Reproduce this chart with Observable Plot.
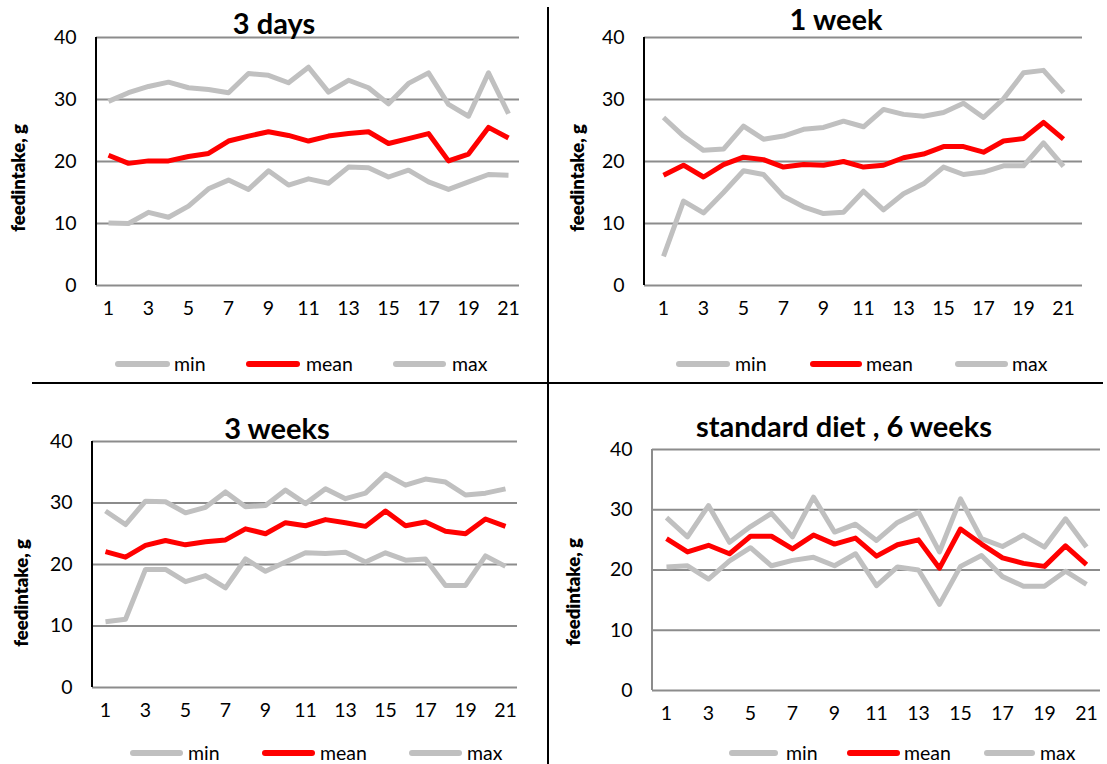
<!DOCTYPE html>
<html>
<head>
<meta charset="utf-8">
<script src="https://cdn.jsdelivr.net/npm/d3@7"></script>
<script src="https://cdn.jsdelivr.net/npm/@observablehq/plot@0.6"></script>
<style>
  html, body { margin: 0; padding: 0; background: #fff; }
  #root { position: relative; width: 1107px; height: 764px; overflow: hidden; font-family: Lato, "Open Sans", sans-serif; }
  .panel { position: absolute; }
  .title { position: absolute; font-weight: 700; font-size: 29px; color: #000; white-space: nowrap; transform: translate(-50%, -50%); }
  .ytitle { position: absolute; font-weight: 800; font-size: 18.5px; color: #000; white-space: nowrap; transform: translate(-50%, -50%) rotate(-90deg); }
  .leg-line { position: absolute; height: 6px; border-radius: 3px; transform: translateY(-50%); }
  .leg-text { position: absolute; font-size: 19.5px; color: #000; transform: translateY(-52%); }
  .divider { position: absolute; background: #000; }
</style>
</head>
<body>
<div id="root"></div>
<script>
// ---- data ----
const days = [1,2,3,4,5,6,7,8,9,10,11,12,13,14,15,16,17,18,19,20,21];
const xTicks = [1,3,5,7,9,11,13,15,17,19,21];
const yTicks = [0,10,20,30,40];
const seriesNames = ["min", "mean", "max"];
const titles = ["3 days", "1 week", "3 weeks", "standard diet , 6 weeks"];
const yLabel = "feedintake, g";

const d3Min  = [10.1,10.0,11.8,11.0,12.8,15.6,17.0,15.5,18.5,16.2,17.2,16.5,19.1,19.0,17.5,18.6,16.7,15.5,16.7,17.9,17.8];
const d3Mean = [21.0,19.7,20.1,20.1,20.8,21.3,23.3,24.1,24.8,24.2,23.3,24.1,24.5,24.8,22.9,23.7,24.5,20.1,21.2,25.5,23.8];
const d3Max  = [29.7,31.1,32.1,32.8,31.9,31.6,31.1,34.2,33.9,32.7,35.2,31.2,33.1,31.9,29.3,32.6,34.3,29.2,27.3,34.3,27.7];

const w1Min  = [4.7,13.6,11.7,15.0,18.5,17.9,14.4,12.7,11.6,11.8,15.2,12.2,14.8,16.4,19.1,17.9,18.3,19.3,19.3,23.0,19.2];
const w1Mean = [17.8,19.4,17.5,19.5,20.7,20.3,19.1,19.5,19.4,20.0,19.1,19.4,20.6,21.2,22.4,22.4,21.5,23.3,23.7,26.3,23.6];
const w1Max  = [27.1,24.1,21.8,22.0,25.7,23.6,24.1,25.2,25.5,26.5,25.6,28.4,27.6,27.3,27.9,29.4,27.1,30.1,34.3,34.7,31.1];

const w3Min  = [10.7,11.1,19.2,19.2,17.2,18.2,16.2,20.9,18.9,20.4,21.9,21.8,22.0,20.4,21.9,20.7,20.9,16.6,16.6,21.4,19.7];
const w3Mean = [22.1,21.2,23.1,23.9,23.2,23.7,24.0,25.8,25.0,26.8,26.3,27.3,26.8,26.2,28.7,26.3,26.9,25.4,25.0,27.4,26.2];
const w3Max  = [28.7,26.5,30.3,30.2,28.4,29.3,31.8,29.4,29.6,32.1,29.9,32.3,30.7,31.6,34.7,32.9,33.9,33.4,31.3,31.6,32.3];

const w6Min  = [20.5,20.7,18.5,21.5,23.7,20.7,21.6,22.1,20.7,22.7,17.4,20.5,20.0,14.3,20.6,22.4,18.9,17.3,17.3,19.8,17.6];
const w6Mean = [25.2,23.0,24.1,22.7,25.6,25.6,23.5,25.8,24.3,25.3,22.3,24.2,25.0,20.3,26.8,24.3,22.0,21.1,20.6,24.0,20.9];
const w6Max  = [28.7,25.5,30.7,24.6,27.2,29.4,25.5,32.1,26.3,27.6,24.9,27.9,29.6,23.0,31.8,25.2,23.9,25.8,23.8,28.5,23.8];

const colors = {min: "#c0c0c0", mean: "#ff0000", max: "#c0c0c0"};

function table(mins, means, maxs) {
  const rows = [];
  const arrs = {min: mins, mean: means, max: maxs};
  for (const s of seriesNames) days.forEach((d, i) => rows.push({day: d, value: arrs[s][i], series: s}));
  return rows;
}

// ---- layout ----
const root = document.getElementById("root");
const panels = [
  {data: table(d3Min, d3Mean, d3Max), left: 0,   top: 0,   width: 549, height: 383, ml: 96,  mr: 30, mt: 37, mb: 98, axisColor: "#000",
   title: [274, 22], ytitle: [18, 178], legY: 364, leg: [[115,170,174],[246,300,306],[393,446,452]]},
  {data: table(w1Min, w1Mean, w1Max), left: 549, top: 0,   width: 558, height: 383, ml: 95,  mr: 25, mt: 37, mb: 98, axisColor: "#000",
   title: [836, 18], ytitle: [577, 178], legY: 364, leg: [[676,730,735],[810,862,866],[955,1008,1012]]},
  {data: table(w3Min, w3Mean, w3Max), left: 0,   top: 383, width: 549, height: 381, ml: 92,  mr: 32, mt: 58, mb: 77, axisColor: "#000",
   title: [277, 427], ytitle: [21, 593], legY: 753, leg: [[130,183,188],[262,315,320],[409,462,467]]},
  {data: table(w6Min, w6Mean, w6Max), left: 549, top: 383, width: 558, height: 381, ml: 103, mr: 7,  mt: 66, mb: 74, axisColor: "#8c8c8c",
   title: [844, 425], ytitle: [573, 592], legY: 753, leg: [[729,778,786],[847,900,904],[984,1035,1040]]}
];

panels.forEach((p, k) => {
  const leftAxis = (index, scales, values, dims) => {
    const g = d3.create("svg:line")
      .attr("x1", dims.marginLeft).attr("x2", dims.marginLeft)
      .attr("y1", dims.marginTop).attr("y2", dims.height - dims.marginBottom)
      .attr("stroke", p.axisColor).attr("stroke-width", 2);
    return g.node();
  };
  const chart = Plot.plot({
    width: p.width, height: p.height,
    marginLeft: p.ml, marginRight: p.mr, marginTop: p.mt, marginBottom: p.mb,
    style: {fontFamily: "Lato, 'Open Sans', sans-serif", fontSize: "19.5px", background: "transparent", overflow: "visible", color: "#000"},
    x: {type: "point", domain: days, padding: 0.5},
    y: {domain: [0, 40]},
    color: {domain: seriesNames, range: seriesNames.map(s => colors[s])},
    marks: [
      Plot.ruleY(yTicks, {stroke: "#8c8c8c", strokeWidth: 2, strokeOpacity: 1}),
      leftAxis,
      Plot.axisX(xTicks, {tickSize: 0, tickPadding: 16, label: null, fontSize: 19.5}),
      Plot.axisY(yTicks, {tickSize: 0, tickPadding: 20, label: null, fontSize: 19.5}),
      Plot.line(p.data.filter(d => d.series !== "mean"), {x: "day", y: "value", z: "series", stroke: "series", strokeWidth: 5, strokeLinejoin: "round", strokeLinecap: "butt"}),
      Plot.line(p.data.filter(d => d.series === "mean"), {x: "day", y: "value", stroke: "series", strokeWidth: 5, strokeLinejoin: "round", strokeLinecap: "butt"})
    ]
  });
  chart.classList.add("panel");
  chart.style.left = p.left + "px";
  chart.style.top = p.top + "px";
  root.appendChild(chart);

  const t = document.createElement("div");
  t.className = "title"; t.textContent = titles[k];
  t.style.left = p.title[0] + "px"; t.style.top = p.title[1] + "px";
  root.appendChild(t);

  const yt = document.createElement("div");
  yt.className = "ytitle"; yt.textContent = yLabel;
  yt.style.left = p.ytitle[0] + "px"; yt.style.top = p.ytitle[1] + "px";
  root.appendChild(yt);

  seriesNames.forEach((s, i) => {
    const [x0, x1, tx] = p.leg[i];
    const ln = document.createElement("div");
    ln.className = "leg-line";
    ln.style.left = x0 + "px"; ln.style.width = (x1 - x0) + "px"; ln.style.top = p.legY + "px";
    ln.style.background = colors[s];
    root.appendChild(ln);
    const tx_ = document.createElement("div");
    tx_.className = "leg-text"; tx_.textContent = s;
    tx_.style.left = tx + "px"; tx_.style.top = p.legY + "px";
    root.appendChild(tx_);
  });
});

// dividers
const vline = document.createElement("div");
vline.className = "divider";
Object.assign(vline.style, {left: "547px", top: "7px", width: "2px", height: "757px"});
root.appendChild(vline);
const hline = document.createElement("div");
hline.className = "divider";
Object.assign(hline.style, {left: "32px", top: "382px", width: "1071px", height: "2px"});
root.appendChild(hline);
</script>
</body>
</html>
